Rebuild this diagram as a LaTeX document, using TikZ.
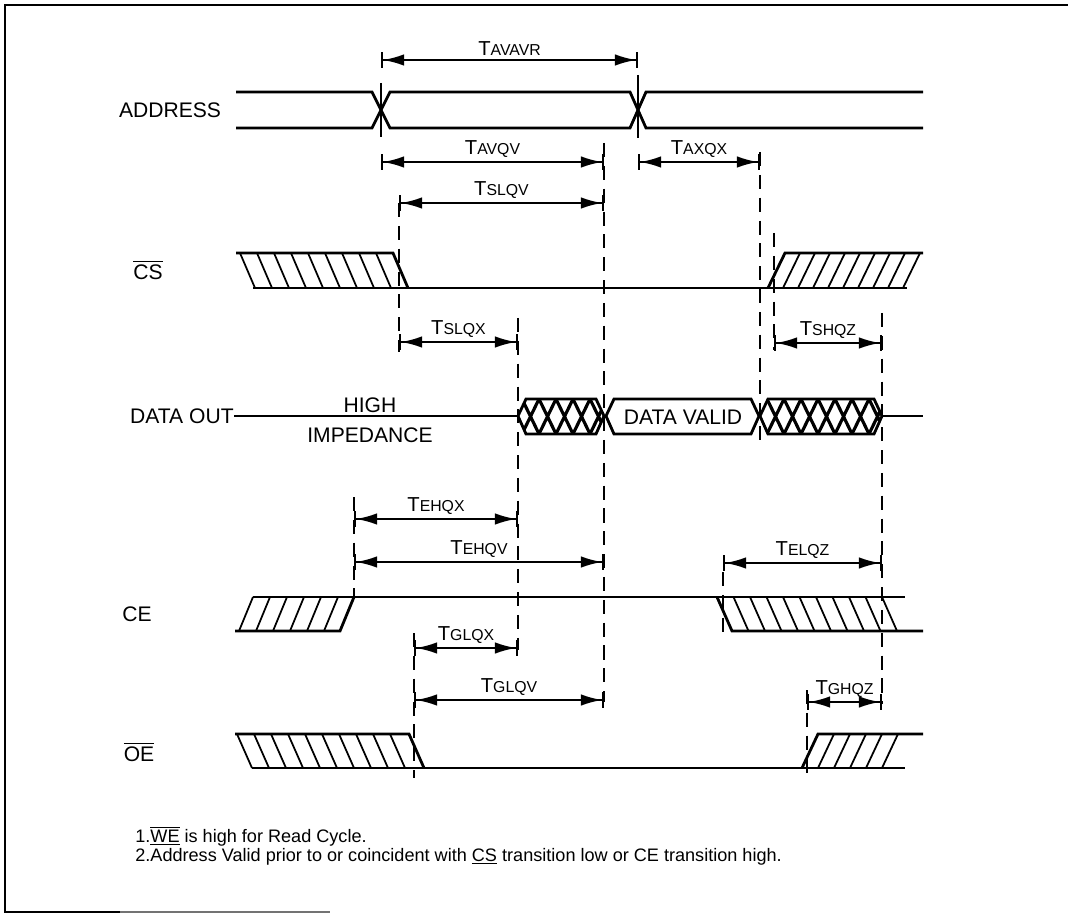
\documentclass[tikz,border=0pt]{standalone}
\usepackage{fontspec}
\setmainfont{Liberation Sans}
\usetikzlibrary{arrows.meta}
\newcommand{\tlab}[1]{{\fontsize{11.5}{12}\selectfont T\fontsize{9}{10}\selectfont #1}}

\begin{document}
\begin{tikzpicture}[x=0.02cm,y=-0.02cm,
  sig/.style={line width=1.6pt},
  hatchln/.style={line width=1pt},
  xhatch/.style={line width=1.8pt},
  vdash/.style={line width=1pt,dash pattern=on 8pt off 5pt},
  dim/.style={line width=1.1pt,{Bar[width=9pt]Latex[length=12pt,width=6.5pt]}-{Latex[length=12pt,width=6.5pt]Bar[width=9pt]}},
  tlbl/.style={above,inner sep=2pt},
  siglbl/.style={font=\fontsize{12}{14}\selectfont,inner sep=0pt}]
\useasboundingbox (0,0) rectangle (1068,915);
% frame
\draw[line width=1.4pt] (1068,5) -- (5,5) -- (5,912) -- (120,912);
\draw[line width=1pt,black!55] (120,912) -- (330,912);

% signal names
\node[siglbl] (addr) at (170,110) {ADDRESS};
\node[siglbl] (cs) at (148,270) {$\overline{\mbox{CS}}$};
\node[siglbl,anchor=east] (dout) at (234,416) {DATA OUT};
\node[siglbl] (ce) at (137,614) {CE};
\node[siglbl] (oe) at (139,752) {$\overline{\mbox{OE}}$};

% address
\draw[sig] (236,92) -- (372,92) -- (390,128) -- (630,128) -- (646,92) -- (923,92);
\draw[sig] (236,128) -- (372,128) -- (390,92) -- (630,92) -- (646,128) -- (923,128);
\draw[line width=0.8pt] (381,83) -- (381,137) (638,75) -- (638,138);

% cs
\foreach \t in {240,257,...,376} \draw[hatchln] (\t,253) -- (\t+15,288);
\foreach \b in {783,798,...,903} \draw[hatchln] (\b,288) -- (\b+17,253);
\draw[sig] (236,253) -- (393,253) -- (408,288);
\draw[sig] (253,288) -- (907,288);
\draw[sig] (768,288) -- (785,253) -- (923,253);

% data out
\draw[sig] (dout.east) -- (518,416);
\node[siglbl] (high) at (370,405) {HIGH};
\node[siglbl] (imp) at (370,435) {IMPEDANCE};
\begin{scope}
\clip (518,416) -- (526,399) -- (596,399) -- (604,416) -- (596,434) -- (526,434) -- cycle;
\foreach \x in {505,522,...,605} \draw[xhatch] (\x,399) -- (\x+17,434) (\x,434) -- (\x+17,399);
\end{scope}
\draw[sig] (518,416) -- (526,399) -- (596,399) -- (604,416) -- (596,434) -- (526,434) -- cycle;
\draw[sig] (606,416) -- (614,399) -- (751,399) -- (759,416) -- (751,434) -- (614,434) -- cycle;
\node[siglbl] (valid) at (683,417) {DATA VALID};
\begin{scope}
\clip (760,416) -- (768,399) -- (874,399) -- (882,416) -- (874,434) -- (768,434) -- cycle;
\foreach \x in {750,767,...,885} \draw[xhatch] (\x,399) -- (\x+17,434) (\x,434) -- (\x+17,399);
\end{scope}
\draw[sig] (760,416) -- (768,399) -- (874,399) -- (882,416) -- (874,434) -- (768,434) -- cycle;
\draw[sig] (882,416) -- (923,416);

% ce
\foreach \b in {239,256,...,324} \draw[hatchln] (\b,631) -- (\b+14,597);
\foreach \t in {733.5,750,...,882} \draw[hatchln] (\t,597) -- (\t+15,631);
\draw[sig] (235,631) -- (340,631) -- (354,597);
\draw[sig] (253,597) -- (905,597);
\draw[sig] (717,597) -- (732,631) -- (923,631);

% oe
\foreach \t in {237,254,...,390} \draw[hatchln] (\t,734) -- (\t+15,768);
\foreach \b in {818,834,...,882} \draw[hatchln] (\b,768) -- (\b+16,734);
\draw[sig] (235,734) -- (409,734) -- (424,768);
\draw[sig] (252,768) -- (905,768);
\draw[sig] (802,768) -- (818,734) -- (923,734);

% dashed timing lines
\draw[vdash] (399,203) -- (399,352);
\draw[vdash] (518,318) -- (518,650);
\draw[vdash] (604,143) -- (604,702);
\draw[vdash] (760,152) -- (760,440);
\draw[vdash] (774,233) -- (774,350);
\draw[vdash] (882,313) -- (882,704);
\draw[vdash] (354,497) -- (354,598);
\draw[vdash] (723,572) -- (723,640);
\draw[vdash] (414,633) -- (414,778);
\draw[vdash] (807,690) -- (807,776);

% timing points
\coordinate (avavrA) at (381,60);  \coordinate (avavrB) at (638,60);
\coordinate (avqvA) at (381,162);  \coordinate (avqvB) at (604,162);
\coordinate (axqxA) at (638,162);  \coordinate (axqxB) at (760,162);
\coordinate (slqvA) at (399,203);  \coordinate (slqvB) at (604,203);
\coordinate (slqxA) at (399,342);  \coordinate (slqxB) at (518,342);
\coordinate (shqzA) at (774,343);  \coordinate (shqzB) at (882,343);
\coordinate (ehqxA) at (354,519);  \coordinate (ehqxB) at (518,519);
\coordinate (ehqvA) at (354,562);  \coordinate (ehqvB) at (604,562);
\coordinate (elqzA) at (723,563);  \coordinate (elqzB) at (882,563);
\coordinate (glqxA) at (414,648);  \coordinate (glqxB) at (518,648);
\coordinate (glqvA) at (414,700);  \coordinate (glqvB) at (604,700);
\coordinate (ghqzA) at (807,702);  \coordinate (ghqzB) at (882,702);

\draw[dim] (avavrA) -- node[tlbl] (tavavr) {\tlab{AVAVR}} (avavrB);
\draw[dim] (avqvA) -- node[tlbl] (tavqv) {\tlab{AVQV}} (avqvB);
\draw[dim] (axqxA) -- node[tlbl] (taxqx) {\tlab{AXQX}} (axqxB);
\draw[dim] (slqvA) -- node[tlbl] (tslqv) {\tlab{SLQV}} (slqvB);
\draw[dim] (slqxA) -- node[tlbl] (tslqx) {\tlab{SLQX}} (slqxB);
\draw[dim] (shqzA) -- node[tlbl] (tshqz) {\tlab{SHQZ}} (shqzB);
\draw[dim] (ehqxA) -- node[tlbl] (tehqx) {\tlab{EHQX}} (ehqxB);
\draw[dim] (ehqvA) -- node[tlbl] (tehqv) {\tlab{EHQV}} (ehqvB);
\draw[dim] (elqzA) -- node[tlbl] (telqz) {\tlab{ELQZ}} (elqzB);
\draw[dim] (glqxA) -- node[tlbl] (tglqx) {\tlab{GLQX}} (glqxB);
\draw[dim] (glqvA) -- node[tlbl] (tglqv) {\tlab{GLQV}} (glqvB);
\draw[dim] (ghqzA) -- node[tlbl] (tghqz) {\tlab{GHQZ}} (ghqzB);

% notes
\node[anchor=base west,inner sep=0pt,font=\fontsize{10.3}{11}\selectfont] (note1) at (135,842)
  {1.$\overline{\underline{\mbox{WE}}}$ is high for Read Cycle.};
\node[anchor=base west,inner sep=0pt,font=\fontsize{10.3}{11}\selectfont] (note2) at (135,861)
  {2.Address Valid prior to or coincident with \underline{CS} transition low or CE transition high.};
\end{tikzpicture}
\end{document}
